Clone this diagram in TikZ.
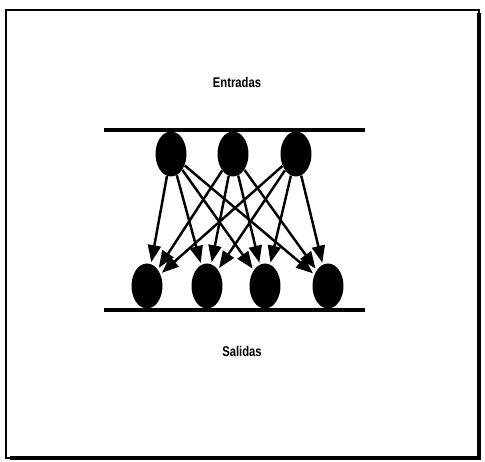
\documentclass[tikz,border=0pt]{standalone}
\usepackage{fontspec}
\setsansfont{Liberation Sans}
\usetikzlibrary{shapes.geometric,arrows.meta}

\begin{document}
\begin{tikzpicture}[x=0.02cm, y=-0.02cm, font=\sffamily\bfseries]
 % --- estilos ---
 \tikzset{
    neurona/.style={
        ellipse,
        fill=black,
        inner sep=0pt,
        minimum width=0.62cm,
        minimum height=0.9cm
    },
    conexion/.style={
        line width=1.4pt,
        -{Triangle[length=0.34cm, width=0.26cm]},
        shorten >=1pt
    },
    capa/.style={
        line width=2pt
    },
    rotulo/.style={
        font=\sffamily\bfseries\fontsize{8}{9}\selectfont,
        xscale=0.8
    }
 }
 \useasboundingbox (0,0) rectangle (485,462);

 % --- marco con sombra ---
 \draw[line width=0.9pt] (6,10) rectangle (479,458);
 \draw[line width=2.8pt] (479,13) -- (479,458) -- (10,458);

 % --- rotulos ---
 \node[rotulo] (entradas) at (237,82) {Entradas};
 \node[rotulo] (salidas) at (242,351) {Salidas};

 % --- capas ---
 \draw[capa] (104,130) -- (365,130);
 \draw[capa] (104,310) -- (365,310);

 % capa de entrada
 \foreach \i/\x in {1/171, 2/233, 3/296}
    \node[neurona] (e\i) at (\x,154) {};

 % capa de salida
 \foreach \j/\x in {1/147, 2/207, 3/265, 4/328}
    \node[neurona] (s\j) at (\x,286) {};

 % --- conexiones: todas con todas ---
 \foreach \i in {1,2,3}
    \foreach \j in {1,2,3,4}
        \draw[conexion] (e\i) -- (s\j);
\end{tikzpicture}
\end{document}
